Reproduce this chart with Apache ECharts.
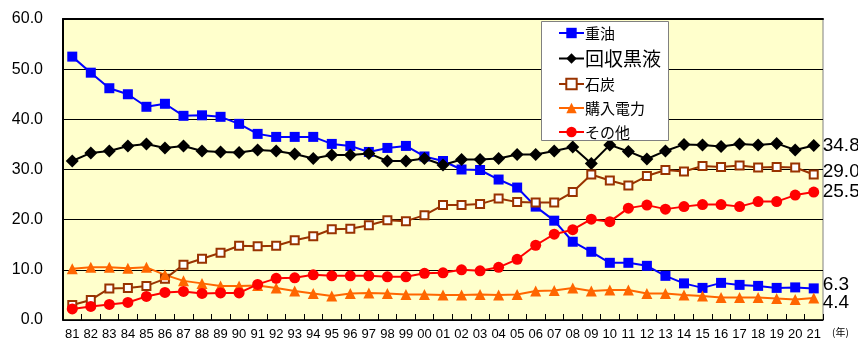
<!DOCTYPE html>
<html>
<head>
<meta charset="utf-8">
<script src="https://cdn.jsdelivr.net/npm/echarts@6/dist/echarts.min.js"></script>
<style>
  html, body { margin: 0; padding: 0; background: #fff; }
  #chart { width: 858px; height: 342px; }
</style>
</head>
<body>
<div id="chart"></div>
<script>
// Years 1981–2021 (two-digit labels)
const years = ['81','82','83','84','85','86','87','88','89','90','91','92','93','94','95','96','97','98','99',
  '00','01','02','03','04','05','06','07','08','09','10','11','12','13','14','15','16','17','18','19','20','21'];

// Energy source shares (%)
const heavyOil = [52.5,49.3,46.2,45.0,42.5,43.1,40.7,40.8,40.5,39.1,37.1,36.5,36.5,36.5,35.1,34.7,33.5,34.3,34.7,
  32.6,31.7,30.0,29.9,28.0,26.4,22.6,19.8,15.6,13.6,11.4,11.4,10.8,8.8,7.3,6.4,7.4,7.0,6.8,6.4,6.5,6.3];
const blackLiquor = [31.7,33.3,33.7,34.7,35.1,34.3,34.7,33.7,33.5,33.4,33.9,33.7,33.1,32.2,32.9,32.9,33.2,31.7,31.7,
  32.2,30.9,32.0,32.0,32.2,33.0,33.0,33.7,34.5,31.2,34.9,33.6,32.1,33.7,35.0,34.9,34.6,35.1,34.9,35.2,33.9,34.8];
const coal = [3.0,4.0,6.3,6.4,6.8,8.2,11.0,12.2,13.4,14.8,14.7,14.8,15.9,16.7,18.1,18.2,18.9,19.9,19.7,
  20.9,22.9,22.9,23.1,24.2,23.5,23.4,23.4,25.5,29.0,27.8,26.8,28.7,29.9,29.6,30.7,30.5,30.8,30.4,30.5,30.4,29.0];
const purchasedPower = [10.2,10.5,10.5,10.3,10.5,9.0,7.8,7.3,6.8,6.8,6.9,6.4,5.8,5.3,4.8,5.3,5.4,5.3,5.1,
  5.1,5.0,5.0,5.1,5.0,5.1,5.8,5.9,6.4,5.8,6.0,6.0,5.3,5.3,5.0,4.8,4.5,4.5,4.5,4.3,4.1,4.4];
const others = [2.2,2.7,3.1,3.5,4.7,5.5,5.7,5.3,5.4,5.4,7.1,8.3,8.4,9.0,8.8,8.8,8.8,8.6,8.6,
  9.3,9.4,10.0,9.8,10.5,12.1,14.9,17.1,18.0,20.1,19.6,22.3,22.9,22.1,22.6,23.0,23.0,22.6,23.6,23.6,24.9,25.5];

const yTicks = [0, 10, 20, 30, 40, 50, 60];

const NARROW = '"Liberation Sans Narrow", "Arial Narrow", sans-serif';
const JP = '"Noto Sans CJK JP", sans-serif';

function lineSeries(name, data, color, symbol, size, extra, endDy) {
  return Object.assign({
    name: name,
    type: 'line',
    data: data,
    symbol: symbol,
    symbolSize: size,
    lineStyle: { color: color, width: 2 },
    itemStyle: { color: color },
    emphasis: { disabled: true },
    endLabel: {
      show: true,
      formatter: p => Number(p.value).toFixed(1),
      distance: 9,
      offset: [0, endDy],
      color: '#000',
      fontSize: 19,
      fontFamily: NARROW
    }
  }, extra || {});
}

const chart = echarts.init(document.getElementById('chart'), null, { renderer: 'canvas' });
chart.setOption({
  animation: false,
  backgroundColor: '#fff',
  grid: {
    left: 63, right: 35, top: 19, bottom: 22,
    show: true,
    backgroundColor: '#FFFFCC',
    borderColor: '#808080',
    borderWidth: 1
  },
  legend: {
    orient: 'vertical',
    left: 558, top: 25,
    padding: 0,
    z: 10,
    itemWidth: 25, itemHeight: 13,
    itemGap: 8,
    selectedMode: false,
    lineStyle: { width: 2 },
    textStyle: { fontFamily: JP, fontSize: 15, color: '#000', lineHeight: 16, padding: [0, 0, 0, -4] },
    data: [
      { name: '重油' },
      { name: '回収黒液', textStyle: { fontSize: 19, lineHeight: 16 } },
      { name: '石炭' },
      { name: '購入電力' },
      { name: 'その他' }
    ]
  },
  graphic: [
    {
      type: 'rect', left: 541, top: 21, z: 8,
      shape: { width: 127, height: 119 },
      style: { fill: '#fff', stroke: '#808080', lineWidth: 1 }
    },
    {
      type: 'text', left: 832, top: 327,
      style: { text: '(年)', fontSize: 10, fontFamily: JP, fill: '#000' }
    }
  ],
  xAxis: [
    {
      type: 'category',
      data: years,
      boundaryGap: true,
      axisLine: { lineStyle: { color: '#000', width: 1.5 } },
      axisTick: { show: true, inside: true, length: 6, interval: 0, lineStyle: { color: '#000' } },
      axisLabel: { interval: 0, margin: 8, fontSize: 13, fontFamily: NARROW, color: '#000' },
      splitLine: { show: false }
    },
    {
      type: 'category',
      data: years,
      position: 'top',
      axisLine: { lineStyle: { color: '#000', width: 2 } },
      axisTick: { show: false },
      axisLabel: { show: false }
    }
  ],
  yAxis: {
    type: 'value',
    min: yTicks[0], max: yTicks[yTicks.length - 1], interval: 10,
    axisLine: { show: true, lineStyle: { color: '#000', width: 2 } },
    axisTick: { show: false },
    axisLabel: { formatter: v => v.toFixed(1), margin: 20, fontSize: 16, fontFamily: NARROW, color: '#000' },
    splitLine: { show: true, lineStyle: { color: '#000', width: 1 } }
  },
  series: [
    lineSeries('重油', heavyOil, '#0000FF', 'rect', 10, null, -4),
    lineSeries('回収黒液', blackLiquor, '#000000', 'diamond', 13, null, 0),
    lineSeries('石炭', coal, '#993300', 'rect', 8, {
      itemStyle: { color: '#FFFFFF', borderColor: '#993300', borderWidth: 2 }
    }, -3),
    lineSeries('購入電力', purchasedPower, '#FF6600', 'triangle', 11, null, 5),
    lineSeries('その他', others, '#FF0000', 'circle', 11, null, 0)
  ]
});
</script>
</body>
</html>
